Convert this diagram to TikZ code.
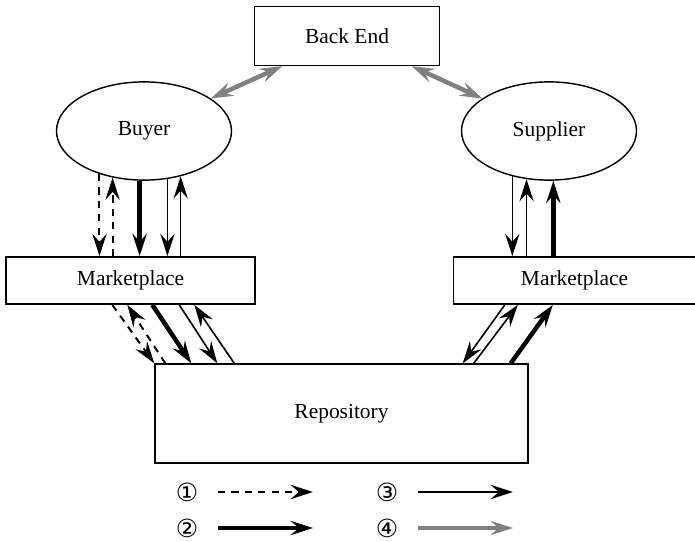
\documentclass[tikz,border=0pt]{standalone}
\usepackage{fontspec}
\setmainfont{Liberation Serif}
\newfontfamily\circfont{DejaVu Sans}
\usetikzlibrary{arrows.meta,shapes.geometric,calc}

\tikzset{
  box/.style={draw,line width=0.8pt,inner sep=0pt},
  oval/.style={draw,ellipse,line width=0.8pt,inner sep=0pt,minimum width=98pt,minimum height=55pt},
  thinlink/.style={line width=0.9pt},
  thicklink/.style={line width=2.5pt},
  dashlink/.style={line width=1.1pt,dash pattern=on 4pt off 3.5pt},
  graylink/.style={line width=2.5pt,draw=gray},
  keynum/.style={font=\circfont\fontsize{14}{16}\selectfont}
}

\begin{document}
\begin{tikzpicture}[x=0.56pt,y=-0.56pt,>={Stealth[length=12.5pt,width=8pt,inset=4.5pt]},font=\fontsize{12}{14}\selectfont,line cap=butt]
\useasboundingbox (0,0) rectangle (695,542);
\node[box,minimum width=103.6pt,minimum height=33pt] (backend) at (347,36) {Back End};
\node[oval] (buyer) at (144,131) {Buyer};
\node[oval] (supplier) at (549,131) {Supplier};
\node[box,minimum width=139.4pt,minimum height=26.5pt] (mktL) at (130.5,280.5) {Marketplace};
\node[box,minimum width=135.5pt,minimum height=26.5pt] (mktR) at (574.5,280.5) {Marketplace};
\node[box,minimum width=208.9pt,minimum height=55.4pt] (repo) at (341.5,413.5) {Repository};
% back end links
\draw[graylink,<->,gray] (backend.205) -- (buyer.26);
\draw[graylink,<->,gray] (backend.335) -- (supplier.154);
% buyer <-> marketplace
\draw[dashlink,->] (buyer.224) -- (buyer.224 |- mktL.north);
\draw[dashlink,->] (buyer.236 |- mktL.north) -- (buyer.236);
\draw[thicklink,->] (buyer.265) -- (buyer.265 |- mktL.north);
\draw[thinlink,->] (buyer.296) -- (buyer.296 |- mktL.north);
\draw[thinlink,->] (buyer.309 |- mktL.north) -- (buyer.309);
% supplier <-> marketplace
\draw[thinlink,->] (supplier.231) -- (supplier.231 |- mktR.north);
\draw[thinlink,->] (supplier.245 |- mktR.north) -- (supplier.245);
\draw[thicklink,->] (supplier.275 |- mktR.north) -- (supplier.275);
% marketplace <-> repository
\draw[dashlink,->] ($(mktL.south west)+(107,0)$) -- (repo.north west);
\draw[dashlink,->] ($(repo.north west)+(11,0)$) -- ($(mktL.south west)+(122,0)$);
\draw[thicklink,->] ($(mktL.south west)+(147,0)$) -- ($(repo.north west)+(37,0)$);
\draw[thinlink,->] ($(mktL.south west)+(174,0)$) -- ($(repo.north west)+(63,0)$);
\draw[thinlink,->] ($(repo.north west)+(80,0)$) -- ($(mktL.south west)+(189,0)$);
\draw[thinlink,->] ($(mktR.south west)+(52,0)$) -- ($(repo.north east)+(-66,0)$);
\draw[thinlink,->] ($(repo.north east)+(-55,0)$) -- ($(mktR.south west)+(65,0)$);
\draw[thicklink,->] ($(repo.north east)+(-18,0)$) -- ($(mktR.south west)+(100,0)$);
% key
\node[keynum] (k1) at (187,492) {①};
\node[keynum] (k2) at (187,528) {②};
\node[keynum] (k3) at (387,492) {③};
\node[keynum] (k4) at (387,528) {④};
\coordinate (k1a) at (218,492); \coordinate (k1b) at (313,492);
\coordinate (k2a) at (218,528); \coordinate (k2b) at (313,528);
\coordinate (k3a) at (418,492); \coordinate (k3b) at (513,492);
\coordinate (k4a) at (418,528); \coordinate (k4b) at (513,528);
\draw[dashlink,->] (k1a) -- (k1b);
\draw[thicklink,->] (k2a) -- (k2b);
\draw[thinlink,->] (k3a) -- (k3b);
\draw[graylink,->,gray] (k4a) -- (k4b);
\end{tikzpicture}
\end{document}
